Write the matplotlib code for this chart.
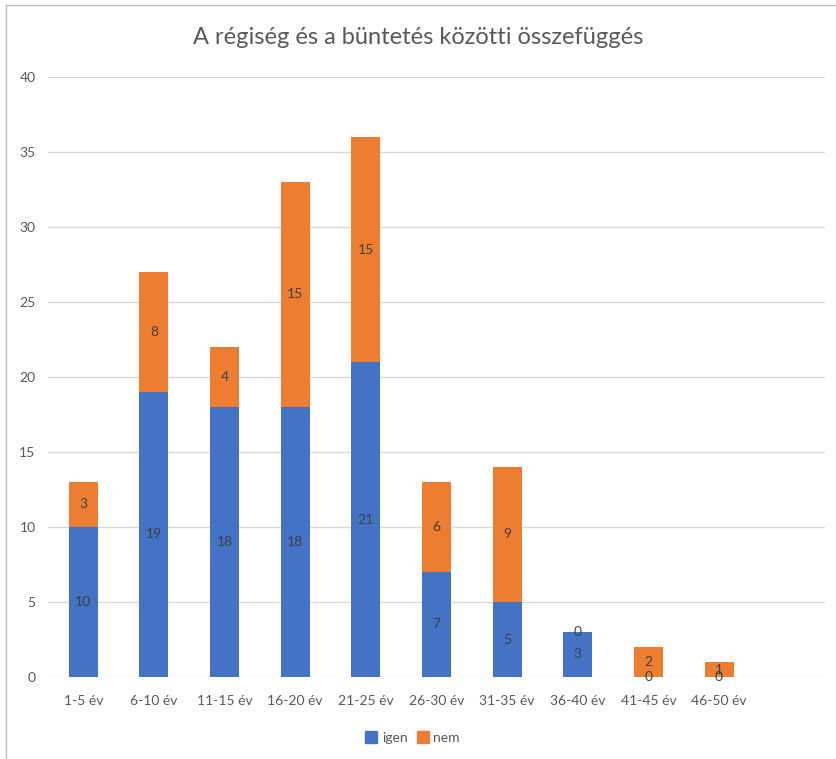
import matplotlib
matplotlib.use("Agg")
import matplotlib.pyplot as plt
from matplotlib.lines import Line2D
import numpy as np

plt.rcParams['font.family'] = ['Lato', 'DejaVu Sans']

categories = ["1-5 év", "6-10 év", "11-15 év", "16-20 év", "21-25 év", "26-30 év",
              "31-35 év", "36-40 év", "41-45 év", "46-50 év", ""]
igen = [10, 19, 18, 18, 21, 7, 5, 3, 0, 0, None]
nem = [3, 8, 4, 15, 15, 6, 9, 0, 2, 1, None]
title = "A régiség és a büntetés közötti összefüggés"

blue = "#4472C4"
orange = "#ED7D31"
txt = "#595959"
lbl = "#404040"

fig = plt.figure(figsize=(8.37, 7.59), dpi=100)
ax = fig.add_axes([48/837, 1-677/759, (825-48)/837, (677-77)/759])

x = np.arange(len(categories))
ig = np.array([v if v is not None else 0 for v in igen], dtype=float)
ne = np.array([v if v is not None else 0 for v in nem], dtype=float)
valid = [v is not None for v in igen]
w = 0.41
xv = x[valid]
ax.bar(xv, ig[valid], w, color=blue, label="igen", zorder=3)
ax.bar(xv, ne[valid], w, bottom=ig[valid], color=orange, label="nem", zorder=3)

for i in xv:
    ax.text(i, ig[i] / 2, f"{int(ig[i])}", ha="center", va="center", fontsize=10, color=lbl, zorder=4)
    ax.text(i, ig[i] + ne[i] / 2, f"{int(ne[i])}", ha="center", va="center", fontsize=10, color=lbl, zorder=4)

ax.set_xlim(-0.5, len(categories) - 0.5)
ax.set_ylim(0, 40)
ax.set_yticks(np.arange(0, 41, 5))
ax.set_xticks(x)
ax.set_xticklabels(categories)
ax.tick_params(axis="both", length=0, labelsize=10, colors=txt)
ax.tick_params(axis="x", pad=13)
ax.tick_params(axis="y", pad=9)
for s in ax.spines.values():
    s.set_visible(False)
ax.grid(axis="y", color="#D9D9D9", linewidth=1, zorder=0)
ax.set_axisbelow(True)

fig.text(0.5, 1 - 37/759, title, ha="center", va="center", fontsize=17, color=txt)

handles = [Line2D([0], [0], marker="s", linestyle="none", markersize=8, color=blue),
           Line2D([0], [0], marker="s", linestyle="none", markersize=8, color=orange)]
fig.legend(handles, ["igen", "nem"], loc="center", bbox_to_anchor=(412/837, 1 - 738/759),
           ncol=2, frameon=False, fontsize=10, handletextpad=0.25, columnspacing=0.6,
           handlelength=1.0, labelcolor=txt)

# border lines
fig.add_artist(Line2D([6/837, 6/837], [0, 1 - 5/759], color="#BFBFBF", linewidth=1))
fig.add_artist(Line2D([6/837, 1], [1 - 5/759, 1 - 5/759], color="#BFBFBF", linewidth=1))

fig.savefig("out.png", dpi=100, facecolor="white")
